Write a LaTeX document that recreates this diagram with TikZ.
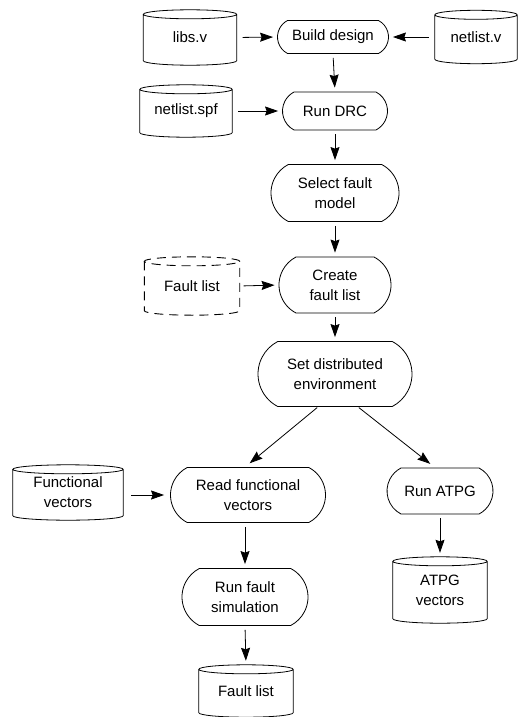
\documentclass[tikz,border=0pt]{standalone}
\usepackage{fontspec}
\setmainfont{Liberation Sans}
\usetikzlibrary{arrows.meta,calc,shapes.misc}

% a database drum drawn round an invisible rectangular node
\newcommand\drum[2][]{%
  \draw[#1] let \p1=(#2.north west), \p2=(#2.south east), \n1={(\x2-\x1)/2} in
    (\x1,\y1-4.5pt) -- (\x1,\y2+4.5pt)
    arc[start angle=180,end angle=360,x radius=\n1,y radius=4.5pt]
    -- (\x2,\y1-4.5pt)
    arc[start angle=0,end angle=360,x radius=\n1,y radius=4.5pt];}

\tikzset{
  every node/.style={font=\fontsize{15pt}{20pt}\selectfont, align=center, inner sep=0pt},
  stepbox/.style={draw, line width=0.8pt, rounded rectangle, rounded rectangle arc length=125},
  store/.style={rectangle},
  flow/.style={line width=0.8pt, -{Stealth[length=13pt,width=9pt,inset=1.5pt]},
               shorten <=4pt, shorten >=4pt},
  ghost/.style={line width=0.9pt, dash pattern=on 9pt off 6pt},
  solidline/.style={line width=0.8pt}
}

\begin{document}
\begin{tikzpicture}[x=1pt,y=1pt]
\useasboundingbox (0,0) rectangle (518,-717);

% process steps
\node[stepbox, minimum width=111, minimum height=33] (build)  at (333,-37)  {Build design};
\node[stepbox, minimum width=105, minimum height=38] (drc)    at (335,-111) {Run DRC};
\node[stepbox, minimum width=128, minimum height=57] (sel)    at (335,-193) {Select fault\\model};
\node[stepbox, minimum width=112, minimum height=56] (create) at (335,-285) {Create\\fault list};
\node[stepbox, minimum width=154, minimum height=65] (sde)    at (335,-374) {Set distributed\\environment};
\node[stepbox, minimum width=155, minimum height=55] (rfv)    at (248,-495) {Read functional\\vectors};
\node[stepbox, minimum width=106, minimum height=46] (atpg)   at (440,-491) {Run ATPG};
\node[stepbox, minimum width=126, minimum height=57] (rfs)    at (245,-597) {Run fault\\simulation};

% data stores
\node[store, minimum width=93, minimum height=55]  (libs) at (190,-37.5) {libs.v};
\node[store, minimum width=82, minimum height=53]  (netv) at (476,-37)   {netlist.v};
\node[store, minimum width=92, minimum height=52]  (spf)  at (186,-111)  {netlist.spf};
\node[store, minimum width=95, minimum height=58]  (fin)  at (192,-286)  {Fault list};
\node[store, minimum width=110, minimum height=55] (func) at (68,-492.5) {Functional\\vectors};
\node[store, minimum width=94, minimum height=66]  (atv)  at (440,-590)  {ATPG\\vectors};
\node[store, minimum width=94, minimum height=52]  (fout) at (246,-691)  {Fault list};

\drum[solidline]{libs}
\drum[solidline]{netv}
\drum[solidline]{spf}
\drum[ghost]{fin}
\drum[solidline]{func}
\drum[solidline]{atv}
\drum[solidline]{fout}

% connectors
\draw[flow, shorten <=6pt] (libs.east) -- (build.west);
\draw[flow, shorten <=6pt] (netv.west) -- (build.east);
\draw[flow] (build.south) -- (drc.north);
\draw[flow, shorten <=6pt] (spf.east) -- (drc.west);
\draw[flow] (drc.south) -- (sel.north);
\draw[flow] (sel.south) -- (create.north);
\draw[flow] (fin.east) -- (create.west);
\draw[flow] (create.south) -- (sde.north);
\draw[flow, shorten <=1pt, shorten >=6pt] ([xshift=-17pt]sde.south) -- ([xshift=-3pt]rfv.north);
\draw[flow, shorten <=1pt, shorten >=6pt] ([xshift=23pt]sde.south) -- ([xshift=-5pt]atpg.north);
\draw[flow, shorten <=8pt, shorten >=6pt] (func.east |- rfv.west) -- (rfv.west);
\draw[flow] (rfs.north |- rfv.south) -- (rfs.north);
\draw[flow] (rfs.south) -- (fout.north);
\draw[flow] (atpg.south) -- (atv.north);
\end{tikzpicture}
\end{document}
